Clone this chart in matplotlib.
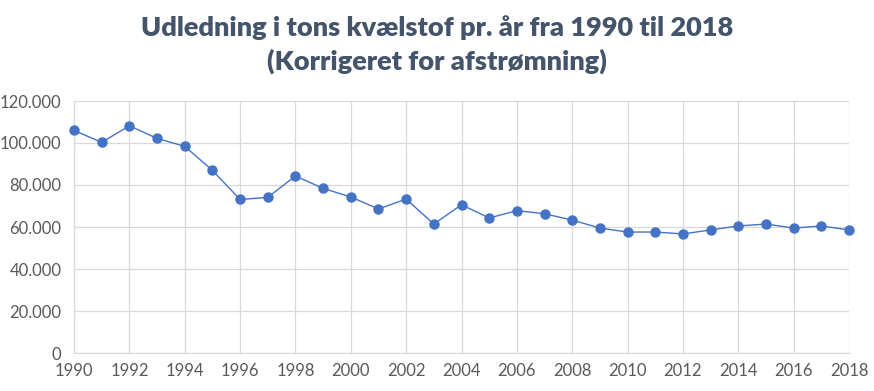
import matplotlib
matplotlib.use("Agg")
import matplotlib.pyplot as plt
from matplotlib.ticker import FuncFormatter, MultipleLocator

years = list(range(1990, 2019))
kvaelstof = [106000, 100300, 108200, 102200, 98400, 87000, 73100, 74100, 84300, 78400,
             74300, 68600, 73300, 61400, 70600, 64300, 67800, 66300, 63300, 59500,
             57600, 57600, 56700, 58600, 60500, 61400, 59500, 60500, 58600]
title = "Udledning i tons kvælstof pr. år fra 1990 til 2018\n(Korrigeret for afstrømning)"

plt.rcParams['font.family'] = ['Lato', 'DejaVu Sans']

fig = plt.figure(figsize=(8.74, 3.91), dpi=100)
ax = fig.add_axes([74 / 874, 1 - 353 / 391, (849 - 74) / 874, (353 - 101) / 391])

ax.plot(years, kvaelstof, color='#4472C4', linewidth=1.0, marker='o',
        markersize=6.5, markerfacecolor='#4472C4', markeredgecolor='#4472C4',
        clip_on=False, zorder=3)

ax.set_xlim(1990, 2018)
ax.set_ylim(0, 120000)
ax.xaxis.set_major_locator(MultipleLocator(2))
ax.yaxis.set_major_locator(MultipleLocator(20000))
ax.yaxis.set_major_formatter(FuncFormatter(lambda v, p: f"{int(v):,}".replace(",", ".")))

ax.grid(True, color='#D9D9D9', linewidth=0.9)
ax.set_axisbelow(True)
for s in ['top', 'right']:
    ax.spines[s].set_visible(False)
for s in ['left', 'bottom']:
    ax.spines[s].set_color('#D9D9D9')
    ax.spines[s].set_linewidth(0.9)
ax.tick_params(length=0, labelsize=12, labelcolor='#595959', pad=7)
ax.tick_params(axis='y', pad=9)

fig.text(0.5, 0.887, title, ha='center', va='center', fontsize=19.5, fontweight='heavy',
         color='#44546A', linespacing=1.4)

fig.savefig('out.png', dpi=100)
